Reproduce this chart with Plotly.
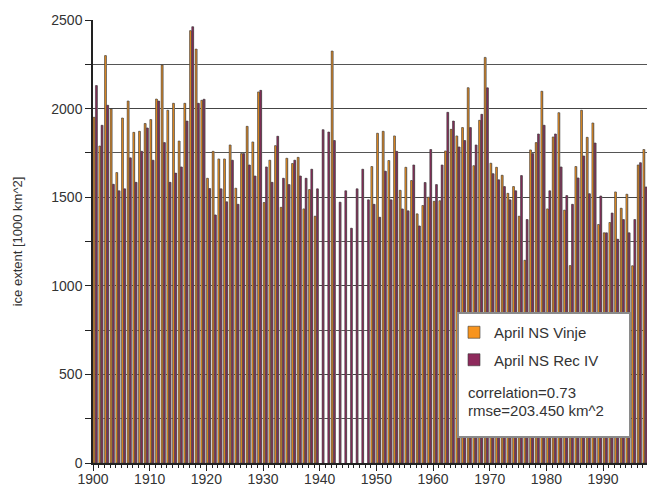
import plotly.graph_objects as go

years = list(range(1900, 1998))

vinje = [1951, 1789, 2299, 1998, 1639, 1947, 2043, 1866, 1872, 1916,
         1938, 2054, 2246, 1991, 2030, 1817, 2030, 2440, 2336, 2047,
         1607, 1759, 1716, 1716, 1795, 1551, 1746, 1900, 1812, 2094,
         1470, 1709, 1791, 1443, 1720, 1690, 1725, 1434, 1543, 1393,
         None, None, 2325, None, None, None, None, None, None, 1673,
         1861, 1872, 1707, 1846, 1539, 1669, 1594, 1406, 1453, 1500,
         1477, 1480, 1761, 1883, 1846, 1893, 2118, 1678, 1934, 2289,
         1692, 1669, 1624, 1522, 1560, 1393, 1144, 1767, 1808, 2098,
         1434, 1840, 1977, 1427, 1114, 1673, 1991, 1838, 1919, 1346,
         1299, 1357, 1530, 1438, 1517, 1113, 1682, 1769]

rec4 = [2130, 1906, 2019, 1573, 1536, 1547, 1722, 1584, 1759, 1891,
        1709, 2043, 1808, 1584, 1636, 1671, 1930, 2462, 2030, 2053,
        1549, 1400, 1547, 1474, 1709, 1460, 1746, 1682, 1620, 2103,
        1671, 1584, 1844, 1607, 1571, 1709, 1620, 1607, 1658, 1547,
        1881, 1868, 1820, 1472, 1536, 1325, 1547, 1658, 1485, 1460,
        1387, 1647, 1485, 1759, 1434, 1423, 1682, 1338, 1583, 1769,
        1571, 1682, 1979, 1930, 1784, 1820, 1893, 1795, 1968, 2117,
        1633, 1598, 1560, 1485, 1536, 1622, 1374, 1746, 1857, 1906,
        1536, 1857, 1671, 1509, 1460, 1609, 1733, 1520, 1806, 1507,
        1299, 1411, 1263, 1374, 1299, 1374, 1695, 1558]

series_names = ["April NS Vinje", "April NS Rec IV"]
y_ticks = [0, 500, 1000, 1500, 2000, 2500]
x_ticks = [1900, 1910, 1920, 1930, 1940, 1950, 1960, 1970, 1980, 1990]
stats_text = ["correlation=0.73", "rmse=203.450 km^2"]

ORANGE = "#F7941E"
PURPLE = "#8E2A5C"
SHADOW = "#9A9A9A"
OUTLINE = "#3A3A3A"

# plot-area geometry (pixels)
L, R, T, B = 93, 647, 20, 463
PW, PH = R - L, B - T

def px_x(x):
    return (x - L) / PW

def px_y(y):
    return (B - y) / PH

fig = go.Figure()

def add_series(vals, name, color, off):
    fig.add_trace(go.Bar(x=years, y=vals, offset=off + 0.12, width=0.3,
                         marker=dict(color=SHADOW, line=dict(width=0)),
                         showlegend=False, hoverinfo="skip"))
    fig.add_trace(go.Bar(x=years, y=vals, offset=off, width=0.3, name=name,
                         legendgroup=name,
                         marker=dict(color=color, line=dict(color=OUTLINE, width=0.6))))

add_series(vinje, series_names[0], ORANGE, 0.03)
add_series(rec4, series_names[1], PURPLE, 0.43)

font_family = "Liberation Sans, Arial, Helvetica, sans-serif"

fig.update_layout(
    width=648, height=489,
    margin=dict(l=L, r=648 - R, t=T, b=489 - B, autoexpand=False),
    paper_bgcolor="white", plot_bgcolor="white",
    barmode="overlay",
    font=dict(family=font_family, color="#333333", size=14),
    legend=dict(x=px_x(454), y=px_y(316), xanchor="left", yanchor="top",
                bgcolor="rgba(0,0,0,0)", borderwidth=0,
                font=dict(size=15, color="#333333"),
                itemwidth=30, tracegroupgap=5),
    xaxis=dict(range=[1900, 1997.75], tickmode="array", tickvals=x_ticks,
               automargin=False, ticklabelstandoff=-4,
               ticks="outside", ticklen=6, tickcolor="#222", tickwidth=1,
               showline=True, linecolor="#222", linewidth=1.5,
               showgrid=False, zeroline=False,
               minor=dict(dtick=1, ticks="outside", ticklen=3, tickcolor="#222",
                          showgrid=False),
               tickfont=dict(size=14, color="#333333")),
    yaxis=dict(range=[0, 2500], tickmode="array", tickvals=y_ticks,
               automargin=False,
               ticks="outside", ticklen=6, tickcolor="#222", tickwidth=1,
               showline=True, linecolor="#222", linewidth=1.5,
               showgrid=True, gridcolor="#444444", gridwidth=1.2,
               zeroline=False,
               minor=dict(dtick=250, ticks="outside", ticklen=6, tickcolor="#222",
                          showgrid=True, gridcolor="#555555", gridwidth=1.2),
               title=dict(text="ice extent [1000 km^2]", font=dict(size=13, color="#333333"),
                          standoff=26),
               tickfont=dict(size=14, color="#333333")),
)

# legend box
fig.add_shape(type="rect", xref="paper", yref="paper",
              x0=px_x(458), x1=px_x(630), y0=px_y(437), y1=px_y(313),
              fillcolor="white", line=dict(color="#8A8A8A", width=2), layer="above")

for txt, yc in zip(stats_text, [392, 410]):
    fig.add_annotation(xref="paper", yref="paper", x=px_x(466), y=px_y(yc),
                       xanchor="left", yanchor="middle", align="left",
                       text=txt, showarrow=False,
                       font=dict(size=15, color="#333333"))

fig.write_html("out.html", config={"displayModeBar": False},
               post_script="document.body.style.margin='0px';document.body.style.overflow='hidden';")
